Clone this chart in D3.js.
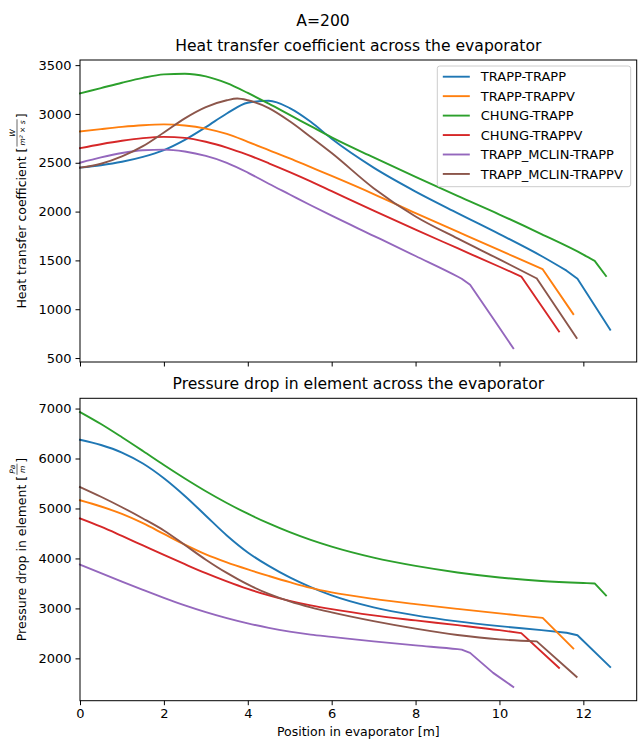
<!DOCTYPE html>
<html>
<head>
<meta charset="utf-8">
<script src="https://cdn.jsdelivr.net/npm/d3@7"></script>
<style>
  html, body { margin: 0; padding: 0; background: #fff; }
  svg { display: block; }
  text { font-family: "DejaVu Sans", sans-serif; fill: #000; }
</style>
</head>
<body>
<svg id="fig" width="638" height="741"></svg>
<script>
// ---- data -------------------------------------------------------------
const seriesNames = ["TRAPP-TRAPP", "TRAPP-TRAPPV", "CHUNG-TRAPP", "CHUNG-TRAPPV",
                     "TRAPP_MCLIN-TRAPP", "TRAPP_MCLIN-TRAPPV"];

// position along the evaporator [m]
const posTT = [0,0.5,1,1.5,2,2.5,3,3.5,4,4.5,5,5.5,6,7,8,9,10,11,11.6,11.86,12.64];
const posTV = [0,0.5,1,1.5,2,2.5,3,3.5,4,4.5,5,5.5,6,7,8,9,10,10.5,11.03,11.76];
const posCT = [0,0.5,1,1.5,2,2.5,3,3.5,4,4.5,5,5.5,6,7,8,9,10,11,12,12.27,12.54];
const posCV = [0,0.5,1,1.5,2,2.5,3,3.5,4,4.5,5,5.5,6,7,8,9,10,10.52,11.42];
const posMT = [0,0.5,1,1.5,2,2.5,3,3.5,4,4.5,5,5.5,6,7,8,9,9.1,9.3,9.85,10.33];
const posMV = [0,0.5,1,1.5,2,2.5,3,3.5,3.75,4,4.5,5,5.5,6,7,8,9,10,10.89,11.84];

// position where the outlet section starts (straight segments from here on)
const outletStart = [11.6, 11.03, 12.27, 10.52, 9.1, 10.89];

// heat transfer coefficient [W/(m^2 x s)]
const htcTT = [2450,2475,2510,2560,2630,2735,2865,3005,3115,3135,3060,2920,2745,2450,2205,1985,1770,1545,1395,1312,790];
const htcTV = [2820,2845,2868,2885,2893,2882,2850,2795,2715,2630,2545,2455,2365,2180,1985,1795,1605,1510,1410,950];
const htcCT = [3210,3265,3320,3370,3405,3412,3385,3315,3215,3105,2990,2875,2760,2555,2355,2160,1970,1770,1560,1495,1340];
const htcCV = [2650,2690,2725,2752,2765,2755,2715,2655,2580,2495,2405,2310,2210,2010,1815,1625,1435,1335,773];
const htcMT = [2500,2555,2600,2628,2635,2615,2570,2500,2400,2285,2175,2065,1958,1752,1545,1335,1312,1250,905,600];
const htcMV = [2450,2490,2565,2670,2810,2955,3070,3140,3158,3140,3060,2925,2765,2600,2240,1950,1725,1510,1315,705];

// pressure drop in element [Pa/m]
const dpTT = [6375,6270,6120,5900,5605,5250,4855,4460,4120,3850,3620,3425,3260,3020,2860,2740,2645,2565,2512,2462,1829];
const dpTV = [5165,5040,4890,4705,4490,4275,4080,3920,3780,3650,3525,3410,3320,3190,3085,2990,2900,2855,2810,2200];
const dpCT = [6930,6690,6425,6150,5870,5600,5345,5110,4895,4700,4525,4370,4235,4015,3850,3720,3620,3548,3508,3500,3260];
const dpCV = [4800,4635,4450,4260,4070,3885,3705,3540,3390,3260,3150,3060,2985,2860,2760,2665,2565,2505,1810];
const dpMT = [3878,3705,3535,3370,3210,3060,2925,2805,2700,2610,2535,2475,2430,2340,2260,2185,2175,2110,1710,1428];
const dpMV = [5430,5235,5025,4800,4560,4270,3975,3710,3592,3480,3290,3140,3020,2920,2745,2595,2468,2380,2340,1630];

const positions = [posTT, posTV, posCT, posCV, posMT, posMV];
const htcValues = [htcTT, htcTV, htcCT, htcCV, htcMT, htcMV];
const dpValues  = [dpTT, dpTV, dpCT, dpCV, dpMT, dpMV];

const xTicks   = [0, 2, 4, 6, 8, 10, 12];
const htcTicks = [500, 1000, 1500, 2000, 2500, 3000, 3500];
const dpTicks  = [2000, 3000, 4000, 5000, 6000, 7000];

// ---- layout & style -----------------------------------------------------
const palette = ["#1f77b4", "#ff7f0e", "#2ca02c", "#d62728", "#9467bd", "#8c564b"];
const svg = d3.select("#fig");
const plotL = 80, plotR = 636.7;
const panelTop = { top: 60, bottom: 362 };
const panelBot = { top: 398.3, bottom: 700.7 };
const tickFont = 13, labelFont = 12.5, titleFont = 15.6, legendFont = 13;
const lineW = 1.9;

const xMax = d3.max(positions.flat());
const x = d3.scaleLinear().domain([0, xMax * 1.05]).range([plotL, plotR]);

function paddedExtent(arrs) {
  const [lo, hi] = d3.extent(arrs.flat());
  const m = (hi - lo) * 0.05;
  return [lo - m, hi + m];
}

function drawPanel(box, values, yTicks, title, showXLabels) {
  const y = d3.scaleLinear().domain(paddedExtent(values)).range([box.bottom, box.top]);

  const smooth = d3.line().x(d => x(d[0])).y(d => y(d[1])).curve(d3.curveMonotoneX);
  const straight = d3.line().x(d => x(d[0])).y(d => y(d[1]));

  const g = svg.append("g");
  values.forEach((vals, i) => {
    const pts = positions[i].map((p, k) => [p, vals[k]]);
    const body = pts.filter(d => d[0] <= outletStart[i]);
    const tail = pts.filter(d => d[0] >= outletStart[i]);
    g.append("path")
      .attr("d", smooth(body) + straight(tail).replace(/^M/, "L"))
      .attr("fill", "none")
      .attr("stroke", palette[i])
      .attr("stroke-width", lineW)
      .attr("stroke-linejoin", "round")
      .attr("stroke-linecap", "square");
  });

  // y axis
  const ya = svg.append("g")
    .attr("transform", `translate(${plotL},0)`)
    .call(d3.axisLeft(y).tickValues(yTicks).tickFormat(d3.format("d")).tickSize(4.5).tickPadding(4));
  ya.select(".domain").remove();
  ya.selectAll(".tick line").attr("stroke", "#000").attr("stroke-width", 1);
  ya.selectAll(".tick text").attr("font-size", tickFont).attr("font-family", "DejaVu Sans").attr("fill", "#000");

  // x axis
  const xa = svg.append("g")
    .attr("transform", `translate(0,${box.bottom})`)
    .call(d3.axisBottom(x).tickValues(xTicks).tickFormat(showXLabels ? d3.format("d") : () => "")
      .tickSize(4.5).tickPadding(4));
  xa.select(".domain").remove();
  xa.selectAll(".tick line").attr("stroke", "#000").attr("stroke-width", 1);
  xa.selectAll(".tick text").attr("font-size", tickFont).attr("font-family", "DejaVu Sans").attr("fill", "#000");

  // frame
  svg.append("rect")
    .attr("x", plotL).attr("y", box.top)
    .attr("width", plotR - plotL).attr("height", box.bottom - box.top)
    .attr("fill", "none").attr("stroke", "#000").attr("stroke-width", 1);

  // title
  svg.append("text")
    .attr("x", (plotL + plotR) / 2).attr("y", box.top - 9)
    .attr("text-anchor", "middle").attr("font-size", titleFont)
    .text(title);
  return y;
}

// rotated axis label with a small stacked fraction for the unit
function yLabel(cx, cy, main, num, den) {
  const g = svg.append("g").attr("transform", `translate(${cx},${cy}) rotate(-90)`);
  const t1 = g.append("text").attr("font-size", labelFont).text(main + " [");
  const w1 = t1.node().getComputedTextLength();
  const fs = 7.5;
  const tn = g.append("text").attr("font-size", fs).attr("font-style", "italic")
    .attr("text-anchor", "middle").text(num);
  const td = g.append("text").attr("font-size", fs).attr("font-style", "italic")
    .attr("text-anchor", "middle").text(den);
  const fw = Math.max(tn.node().getComputedTextLength(), td.node().getComputedTextLength()) + 2;
  const tb = g.append("text").attr("font-size", labelFont).text("]");
  const wb = tb.node().getComputedTextLength();
  const total = w1 + fw + 2 + wb;
  const x0 = -total / 2;
  t1.attr("x", x0).attr("y", 0);
  const fc = x0 + w1 + 1 + fw / 2;
  tn.attr("x", fc).attr("y", -10.8);
  td.attr("x", fc).attr("y", -1.4);
  g.append("line")
    .attr("x1", fc - fw / 2).attr("x2", fc + fw / 2)
    .attr("y1", -9.0).attr("y2", -9.0)
    .attr("stroke", "#000").attr("stroke-width", 0.6);
  tb.attr("x", x0 + w1 + fw + 2).attr("y", 0);
}

// ---- figure -------------------------------------------------------------
svg.append("text")
  .attr("x", 323).attr("y", 26)
  .attr("text-anchor", "middle").attr("font-size", titleFont)
  .text("A=200");

drawPanel(panelTop, htcValues, htcTicks, "Heat transfer coefficient across the evaporator", false);
drawPanel(panelBot, dpValues, dpTicks, "Pressure drop in element across the evaporator", true);

yLabel(26, (panelTop.top + panelTop.bottom) / 2, "Heat transfer coefficient", "W", "m² × s");
yLabel(26, (panelBot.top + panelBot.bottom) / 2, "Pressure drop in element", "Pa", "m");

svg.append("text")
  .attr("x", (plotL + plotR) / 2).attr("y", 736)
  .attr("text-anchor", "middle").attr("font-size", labelFont)
  .text("Position in evaporator [m]");

// legend
const leg = { x: 437.3, y: 66, w: 193.4, h: 120.7, row: 19.45, first: 76.7 };
svg.append("rect")
  .attr("x", leg.x).attr("y", leg.y).attr("width", leg.w).attr("height", leg.h)
  .attr("rx", 2.5).attr("ry", 2.5)
  .attr("fill", "#fff").attr("fill-opacity", 0.8)
  .attr("stroke", "#cccccc").attr("stroke-width", 1);
seriesNames.forEach((name, i) => {
  const cy = leg.first + i * leg.row;
  svg.append("line")
    .attr("x1", leg.x + 5.5).attr("x2", leg.x + 32.5)
    .attr("y1", cy).attr("y2", cy)
    .attr("stroke", palette[i]).attr("stroke-width", lineW);
  svg.append("text")
    .attr("x", leg.x + 43.5).attr("y", cy + 4.6)
    .attr("font-size", legendFont)
    .text(name);
});
</script>
</body>
</html>
